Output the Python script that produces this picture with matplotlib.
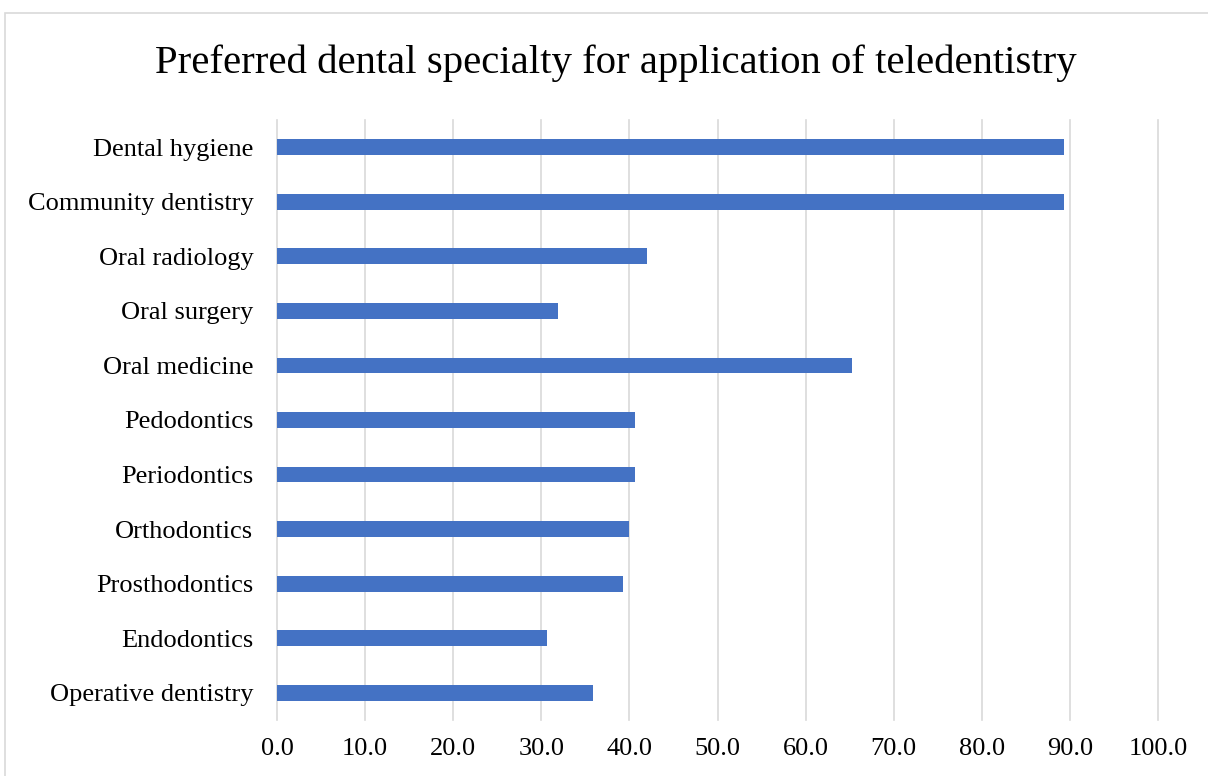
import numpy as np
import matplotlib
matplotlib.use('Agg')
import matplotlib.pyplot as plt
from matplotlib.patches import Rectangle

plt.rcParams['font.family'] = ['Liberation Serif', 'DejaVu Serif']

# bottom to top, as drawn
specialties = ['Operative dentistry', 'Endodontics', 'Prosthodontics', 'Orthodontics',
               'Periodontics', 'Pedodontics', 'Oral medicine', 'Oral surgery',
               'Oral radiology', 'Community dentistry', 'Dental hygiene']
percent = [35.9, 30.6, 39.3, 40.0, 40.6, 40.6, 65.3, 31.9, 42.0, 89.3, 89.3]
xticks = np.arange(0, 101, 10)

fig = plt.figure(figsize=(12.08, 7.76), dpi=100)
ax = fig.add_axes([277/1208, 1 - 720/776, (1158-277)/1208, 600/776])

y = np.arange(len(specialties))
ax.barh(y, percent, height=0.29, color='#4472C4', zorder=3)

ax.set_xlim(0, 100)
ax.set_ylim(-0.5, len(specialties) - 0.5)
ax.set_yticks(y)
ax.set_yticklabels(specialties, fontsize=19)
ax.set_xticks(xticks)
ax.set_xticklabels(['%.1f' % v for v in xticks], fontsize=19)
ax.tick_params(axis='both', length=0)
ax.tick_params(axis='y', pad=17)
ax.tick_params(axis='x', pad=13)
ax.grid(axis='x', color='#d9d9d9', linewidth=1.2, zorder=0)
for gl in ax.get_xgridlines():
    gl.set_clip_on(False)
for s in ax.spines.values():
    s.set_visible(False)

fig.text(616/1208, 1 - 63/776, 'Preferred dental specialty for application of teledentistry',
         ha='center', va='center', fontsize=29.3)

# outer chart border
fig.patches.append(Rectangle((5/1208, -0.1), 1.2, 1 - 13/776 + 0.1, transform=fig.transFigure,
                             fill=False, edgecolor='#d9d9d9', linewidth=1.2))

fig.savefig('out.png', dpi=100)
